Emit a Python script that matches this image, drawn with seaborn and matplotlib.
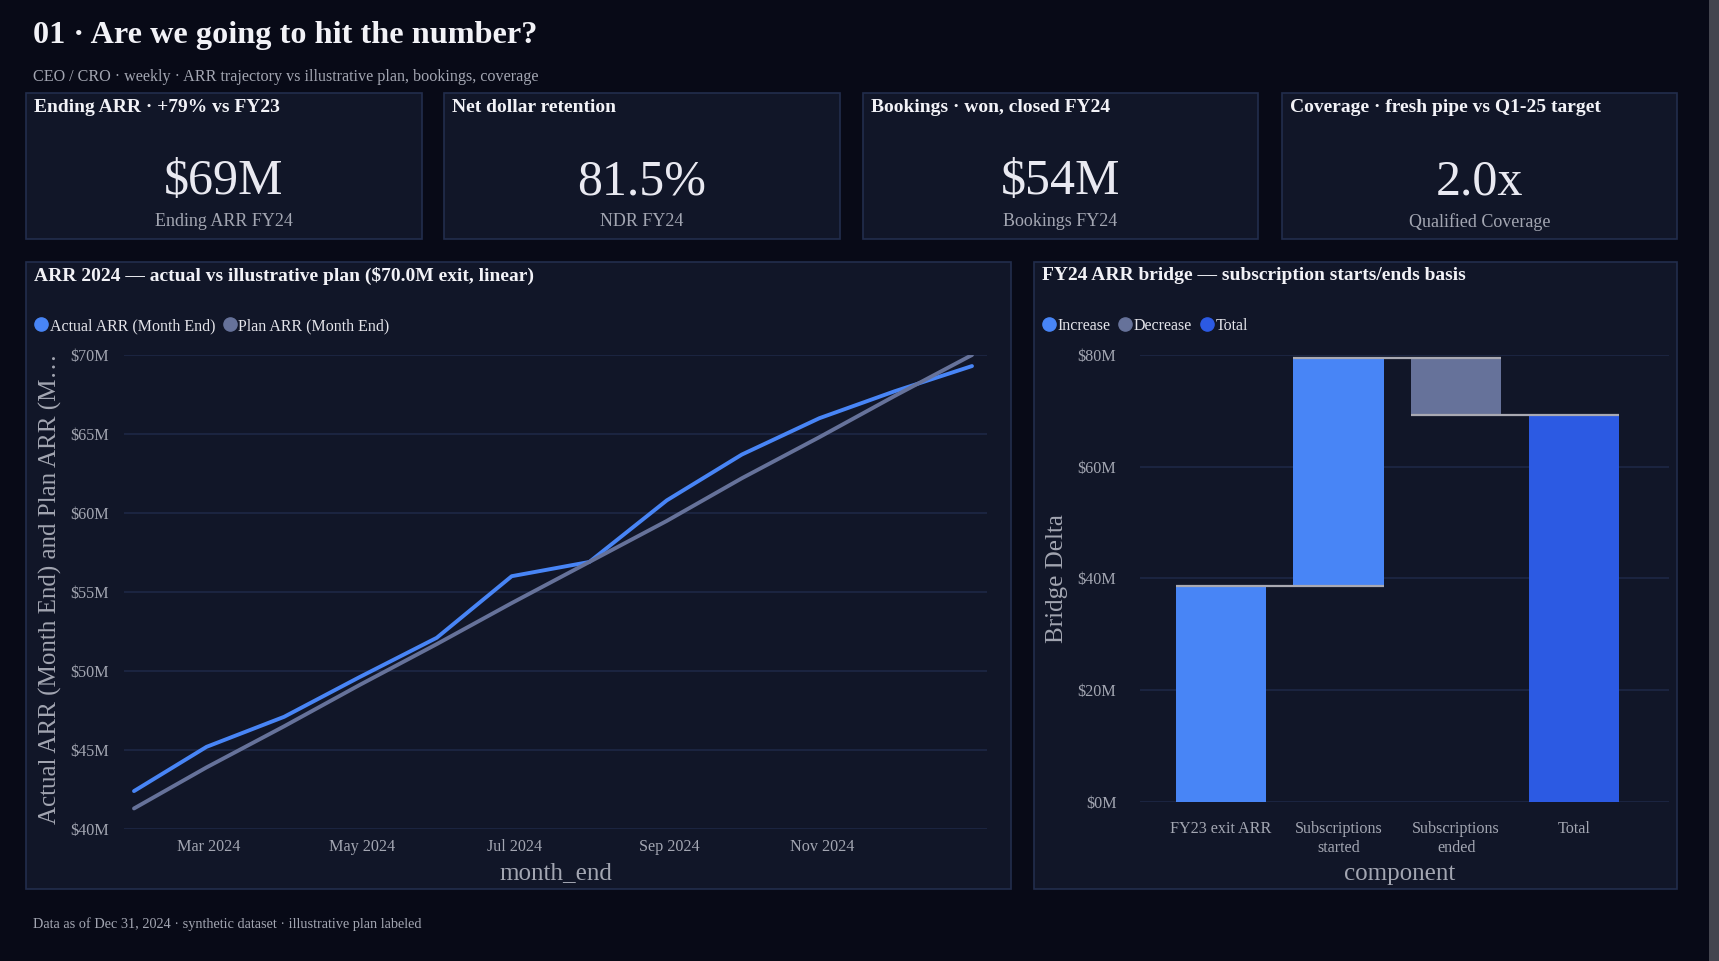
import numpy as np
import pandas as pd
import matplotlib
matplotlib.use("Agg")
import matplotlib.pyplot as plt
import matplotlib.dates as mdates
import matplotlib.ticker as mticker
from matplotlib.patches import Rectangle
from matplotlib.lines import Line2D
import seaborn as sns

# ---------------- data ----------------
month_end = ["2024-01-31", "2024-02-29", "2024-03-31", "2024-04-30", "2024-05-31", "2024-06-30",
             "2024-07-31", "2024-08-31", "2024-09-30", "2024-10-31", "2024-11-30", "2024-12-31"]
actual_arr = [42.4, 45.2, 47.1, 49.6, 52.1, 56.0, 56.9, 60.8, 63.7, 66.0, 67.7, 69.3]
plan_arr = [41.3, 43.9, 46.5, 49.1, 51.7, 54.3, 56.9, 59.5, 62.2, 64.8, 67.4, 70.0]

components = ["FY23 exit ARR", "Subscriptions\nstarted", "Subscriptions\nended", "Total"]
bridge_values = [38.7, 40.7, -10.1, 69.3]
bridge_kinds = ["Increase", "Increase", "Decrease", "Total"]

kpi_titles = ["Ending ARR · +79% vs FY23", "Net dollar retention",
              "Bookings · won, closed FY24", "Coverage · fresh pipe vs Q1-25 target"]
kpi_values = ["$69M", "81.5%", "$54M", "2.0x"]
kpi_labels = ["Ending ARR FY24", "NDR FY24", "Bookings FY24", "Qualified Coverage"]

# ---------------- style ----------------
W, H = 1719, 961
BG = "#080a17"
PANEL = "#111628"
BORDER = "#222d4d"
GRID = "#1e2846"
WHITE = "#f2f2f7"
GRAY = "#a3a6b2"
BLUE = "#4885f6"
SLATE = "#66729a"
TOTAL = "#2c5ae3"
SERIF = ["Liberation Serif", "DejaVu Serif"]

sns.set_theme(style="dark")
plt.rcParams["font.family"] = SERIF
plt.rcParams["axes.facecolor"] = PANEL
plt.rcParams["figure.facecolor"] = BG

fig = plt.figure(figsize=(W / 100, H / 100), dpi=100)
fig.patch.set_facecolor(BG)


def fx(px):
    return px / W


def fy(py):
    return 1 - py / H


def panel(x0, y0, x1, y1):
    fig.add_artist(Rectangle((fx(x0), fy(y1)), (x1 - x0) / W, (y1 - y0) / H,
                             transform=fig.transFigure, facecolor=PANEL,
                             edgecolor=BORDER, lw=1.2, zorder=0))


def axes_at(x0, y0, x1, y1):
    return fig.add_axes([fx(x0), fy(y1), (x1 - x0) / W, (y1 - y0) / H])


# scrollbar strip on the right edge
fig.add_artist(Rectangle((fx(1709), 0), 10 / W, 1, transform=fig.transFigure,
                         facecolor="#44454f", edgecolor="none", zorder=0))

# header
fig.text(fx(33), fy(35), "01 · Are we going to hit the number?", color=WHITE,
         fontsize=23.2, fontweight="bold", va="center", ha="left")
fig.text(fx(33), fy(77), "CEO / CRO · weekly · ARR trajectory vs illustrative plan, bookings, coverage",
         color=GRAY, fontsize=11.6, va="center", ha="left")

# KPI cards
card_x = [(26, 422), (444, 840), (863, 1258), (1282, 1677)]
for (x0, x1), t, v, lab in zip(card_x, kpi_titles, kpi_values, kpi_labels):
    panel(x0, 93, x1, 239)
    fig.text(fx(x0 + 8), fy(108), t, color=WHITE, fontsize=14, fontweight="bold",
             va="center", ha="left")
    cx = (x0 + x1) / 2
    fig.text(fx(cx), fy(182), v, color="#e9e9f1", fontsize=36, va="center", ha="center")
    fig.text(fx(cx), fy(222), lab, color=GRAY, fontsize=13, va="center", ha="center")

# chart panels
panel(26, 262, 1011, 889)
panel(1034, 262, 1677, 889)
fig.text(fx(34), fy(276), "ARR 2024 — actual vs illustrative plan ($70.0M exit, linear)",
         color=WHITE, fontsize=14, fontweight="bold", va="center", ha="left")
fig.text(fx(1042), fy(276), "FY24 ARR bridge — subscription starts/ends basis",
         color=WHITE, fontsize=14, fontweight="bold", va="center", ha="left")

# ---------------- line chart ----------------
ax = axes_at(124, 355, 987, 829)
df = pd.DataFrame({
    "month_end": pd.to_datetime(month_end * 2),
    "value": actual_arr + plan_arr,
    "series": ["Actual ARR (Month End)"] * len(actual_arr) + ["Plan ARR (Month End)"] * len(plan_arr),
})
pal = {"Actual ARR (Month End)": BLUE, "Plan ARR (Month End)": SLATE}
sns.lineplot(data=df, x="month_end", y="value", hue="series", palette=pal,
             linewidth=2.8, legend=False, ax=ax, zorder=3)
ax.set_facecolor(PANEL)
ax.set_ylim(40, 70)
ax.set_xlim(pd.Timestamp("2024-01-27"), pd.Timestamp("2025-01-06"))
ax.set_yticks([40, 45, 50, 55, 60, 65, 70])
ax.yaxis.set_major_formatter(mticker.FuncFormatter(lambda v, p: f"${v:.0f}M"))
ax.xaxis.set_major_locator(mdates.MonthLocator(bymonth=[3, 5, 7, 9, 11]))
ax.xaxis.set_major_formatter(mdates.DateFormatter("%b %Y"))
ax.grid(axis="y", color=GRID, lw=1.2)
ax.grid(axis="x", visible=False)
for s in ax.spines.values():
    s.set_visible(False)
ax.tick_params(axis="y", length=0, pad=11, labelsize=11.6, labelcolor=GRAY)
ax.tick_params(axis="x", length=0, pad=7, labelsize=11.6, labelcolor=GRAY)
ax.set_xlabel("month_end", fontsize=18, color=GRAY)
ax.xaxis.set_label_coords(0.5, -0.092)
ax.xaxis.label.set_va("center")
ax.set_ylabel("Actual ARR (Month End) and Plan ARR (M…", fontsize=18, color=GRAY)
ax.yaxis.set_label_coords(-0.085, 0.507)
ax.yaxis.label.set_va("center")

h1 = [Line2D([], [], ls="none", marker="o", ms=9.5, color=pal[k]) for k in pal]
fig.legend(h1, list(pal.keys()), loc="center left", bbox_to_anchor=(fx(33), fy(326)),
           ncol=2, frameon=False, handletextpad=0.05, columnspacing=0.4, handlelength=1.0,
           fontsize=11.5, labelcolor="#e4e4ea", borderaxespad=0, borderpad=0)

# ---------------- waterfall ----------------
ax2 = axes_at(1140, 355, 1669, 802)
kind_pal = {"Increase": BLUE, "Decrease": SLATE, "Total": TOTAL}
tops, bottoms, heights = [], [], []
running = 0.0
for v, k in zip(bridge_values, bridge_kinds):
    if k == "Total":
        b, hgt = 0.0, v
        running = v
    else:
        b = running if v >= 0 else running + v
        hgt = abs(v)
        running += v
    bottoms.append(b)
    heights.append(hgt)
    tops.append(running)
bdf = pd.DataFrame({"component": components, "height": heights, "kind": bridge_kinds})
sns.barplot(data=bdf, x="component", y="height", hue="kind", palette=kind_pal,
            dodge=False, width=0.77, saturation=1, legend=False, ax=ax2, zorder=2)
for p in ax2.patches:
    idx = int(round(p.get_x() + p.get_width() / 2))
    p.set_y(bottoms[idx])
    p.set_edgecolor("none")
for i in range(len(components) - 1):
    ax2.hlines(tops[i], i - 0.385, i + 1 + 0.385, color="#a9a9b2", lw=1.6, zorder=4)
ax2.set_facecolor(PANEL)
ax2.set_ylim(0, 80)
ax2.set_xlim(-0.69, 3.81)
ax2.set_yticks([0, 20, 40, 60, 80])
ax2.yaxis.set_major_formatter(mticker.FuncFormatter(lambda v, p: f"${v:.0f}M"))
ax2.grid(axis="y", color=GRID, lw=1.2)
ax2.grid(axis="x", visible=False)
ax2.set_axisbelow(True)
for s in ax2.spines.values():
    s.set_visible(False)
ax2.tick_params(axis="y", length=0, pad=17, labelsize=11.6, labelcolor=GRAY)
ax2.tick_params(axis="x", length=0, pad=14, labelsize=11.6, labelcolor=GRAY)
for t in ax2.get_xticklabels():
    t.set_linespacing(1.25)
ax2.set_xlabel("component", fontsize=18, color=GRAY)
ax2.xaxis.set_label_coords(0.49, -0.16)
ax2.xaxis.label.set_va("center")
ax2.set_ylabel("Bridge Delta", fontsize=18, color=GRAY)
ax2.yaxis.set_label_coords(-0.157, 0.5)
ax2.yaxis.label.set_va("center")

h2 = [Line2D([], [], ls="none", marker="o", ms=9.5, color=kind_pal[k]) for k in kind_pal]
fig.legend(h2, list(kind_pal.keys()), loc="center left", bbox_to_anchor=(fx(1041), fy(326)),
           ncol=3, frameon=False, handletextpad=0.05, columnspacing=0.4, handlelength=1.0,
           fontsize=11.5, labelcolor="#e4e4ea", borderaxespad=0, borderpad=0)

# footer
fig.text(fx(33), fy(924), "Data as of Dec 31, 2024 · synthetic dataset · illustrative plan labeled",
         color=GRAY, fontsize=10.3, va="center", ha="left")

fig.savefig("out.png", dpi=100, facecolor=BG)
